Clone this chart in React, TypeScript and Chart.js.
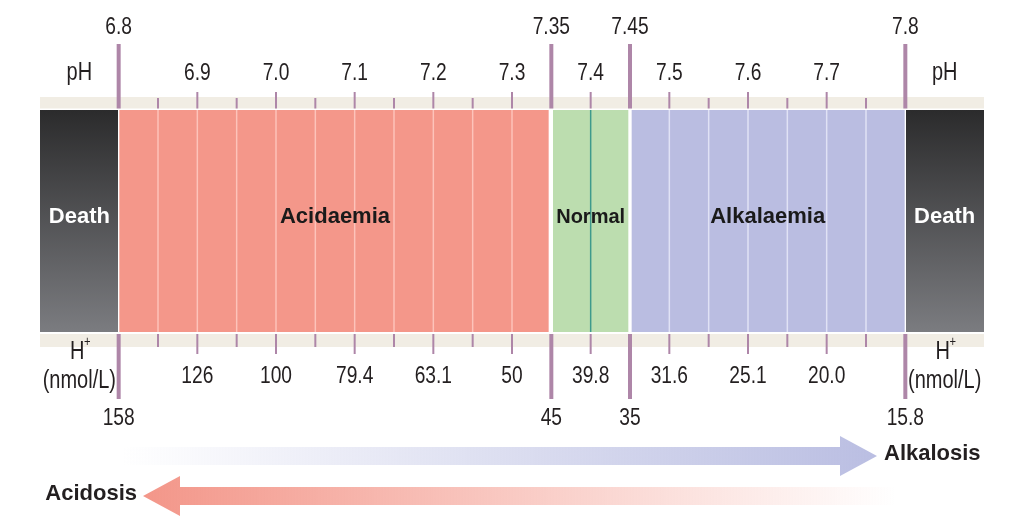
import React, { useEffect, useRef } from 'react';
import { Chart, registerables } from 'chart.js';

Chart.register(...registerables);

// ---- data ----
const zoneNames = ['Death', 'Acidaemia', 'Normal', 'Alkalaemia', 'Death'];
const zoneStart = [6.7, 6.8, 7.35, 7.45, 7.8];
const zoneEnd = [6.8, 7.35, 7.45, 7.8, 7.9];
const boundaryPH = [6.8, 7.35, 7.45, 7.8];
const boundaryPHLabels = ['6.8', '7.35', '7.45', '7.8'];
const boundaryHLabels = ['158', '45', '35', '15.8'];
const tenthPH = [6.9, 7.0, 7.1, 7.2, 7.3, 7.4, 7.5, 7.6, 7.7];
const tenthPHLabels = ['6.9', '7.0', '7.1', '7.2', '7.3', '7.4', '7.5', '7.6', '7.7'];
const tenthHLabels = ['126', '100', '79.4', '63.1', '50', '39.8', '31.6', '25.1', '20.0'];
const halfPH = [6.85, 6.95, 7.05, 7.15, 7.25, 7.55, 7.65, 7.75];
const normalPH = 7.4;

// ---- styles ----
const zoneColors = ['death', '#F4978A', '#BCDDAF', '#BABDE1', 'death'];
const zoneLineColors = ['', 'rgba(255,206,198,0.8)', '', 'rgba(228,230,247,0.9)', ''];
const zoneBorders = [
  { left: 0, right: 1, top: 0, bottom: 0 },
  { left: 1, right: 3, top: 0, bottom: 0 },
  { left: 2, right: 2, top: 0, bottom: 0 },
  { left: 2, right: 1, top: 0, bottom: 0 },
  { left: 1, right: 0, top: 0, bottom: 0 },
];
const TICK = '#AE86A8';
const BEIGE = '#F1EDE4';
const TEXT = '#231F20';
const REG = '"Liberation Sans", Arial, sans-serif';
const BOLD = '"Liberation Sans", Arial, sans-serif';
const NARROW = 0.8;

const decor = {
  id: 'decor',
  beforeDatasetsDraw(chart: any) {
    const { ctx, chartArea } = chart;
    const { left, right, top, bottom } = chartArea;
    ctx.save();
    ctx.fillStyle = BEIGE;
    ctx.fillRect(left, top - 13, right - left, 11.5);
    ctx.fillRect(left, bottom + 2, right - left, 13);
    ctx.restore();
  },
  afterDatasetsDraw(chart: any) {
    const { ctx, chartArea } = chart;
    const { left, right, top, bottom } = chartArea;
    const x = chart.scales.x;
    const px = (v: number) => x.getPixelForValue(v);
    ctx.save();

    // inner lines in bars
    const inner = [...tenthPH, ...halfPH];
    inner.forEach((v) => {
      const zi = zoneStart.findIndex((s, i) => v > s && v < zoneEnd[i]);
      if (zi < 0) return;
      let col = zoneLineColors[zi];
      if (Math.abs(v - normalPH) < 1e-6) col = '#3E9A8C';
      if (!col) return;
      ctx.strokeStyle = col;
      ctx.lineWidth = 1.5;
      ctx.beginPath();
      ctx.moveTo(px(v), top);
      ctx.lineTo(px(v), bottom);
      ctx.stroke();
    });

    // ticks
    ctx.strokeStyle = TICK;
    const vline = (xx: number, y1: number, y2: number, w: number) => {
      ctx.lineWidth = w;
      ctx.beginPath();
      ctx.moveTo(xx, y1);
      ctx.lineTo(xx, y2);
      ctx.stroke();
    };
    boundaryPH.forEach((v) => {
      vline(px(v), 44, top - 1.5, 4);
      vline(px(v), bottom + 2, 399, 4);
    });
    tenthPH.forEach((v) => {
      vline(px(v), 92, top - 1.5, 2);
      vline(px(v), bottom + 2, 354, 2);
    });
    halfPH.forEach((v) => {
      vline(px(v), 98, top - 1.5, 2);
      vline(px(v), bottom + 2, 347, 2);
    });

    // regular (condensed) text
    const nText = (s: string, cx: number, cy: number, size: number) => {
      ctx.save();
      ctx.translate(cx, cy);
      ctx.scale(NARROW, 1);
      ctx.font = `${size}px ${REG}`;
      ctx.fillText(s, 0, 0);
      ctx.restore();
    };
    ctx.fillStyle = TEXT;
    ctx.textAlign = 'center';
    ctx.textBaseline = 'middle';
    boundaryPH.forEach((v, i) => nText(boundaryPHLabels[i], px(v), 27, 24));
    tenthPH.forEach((v, i) => nText(tenthPHLabels[i], px(v), 73, 24));
    boundaryPH.forEach((v, i) => nText(boundaryHLabels[i], px(v), 418, 24));
    tenthPH.forEach((v, i) => nText(tenthHLabels[i], px(v), 376, 24));
    const lx = (left + px(zoneEnd[0])) / 2;
    const rx = (px(zoneStart[4]) + right) / 2;
    [lx, rx].forEach((cx) => {
      nText('pH', cx, 73, 25);
      nText('(nmol/L)', cx, 381, 25);
      nText('H', cx - 2, 352, 25);
      nText('+', cx + 8, 342, 14);
    });

    // zone labels
    zoneNames.forEach((name, i) => {
      const cx = (px(zoneStart[i]) + px(zoneEnd[i])) / 2;
      ctx.fillStyle = name === 'Death' ? '#FFFFFF' : '#1A1A1A';
      ctx.font = name === 'Normal' ? `bold 20px ${BOLD}` : `bold 22px ${BOLD}`;
      ctx.fillText(name, cx, 217);
    });

    // arrows
    const ay = 456;
    const g1 = ctx.createLinearGradient(123, 0, 877, 0);
    g1.addColorStop(0, 'rgba(186,190,226,0)');
    g1.addColorStop(1, 'rgba(186,190,226,1)');
    ctx.fillStyle = g1;
    ctx.beginPath();
    ctx.moveTo(123, ay - 9);
    ctx.lineTo(840, ay - 9);
    ctx.lineTo(840, ay - 20);
    ctx.lineTo(877, ay);
    ctx.lineTo(840, ay + 20);
    ctx.lineTo(840, ay + 9);
    ctx.lineTo(123, ay + 9);
    ctx.closePath();
    ctx.fill();

    const by = 496;
    const g2 = ctx.createLinearGradient(143, 0, 895, 0);
    g2.addColorStop(0, 'rgba(243,150,137,1)');
    g2.addColorStop(1, 'rgba(243,150,137,0)');
    ctx.fillStyle = g2;
    ctx.beginPath();
    ctx.moveTo(895, by - 9);
    ctx.lineTo(180, by - 9);
    ctx.lineTo(180, by - 20);
    ctx.lineTo(143, by);
    ctx.lineTo(180, by + 20);
    ctx.lineTo(180, by + 9);
    ctx.lineTo(895, by + 9);
    ctx.closePath();
    ctx.fill();

    ctx.fillStyle = TEXT;
    ctx.font = `bold 22px ${BOLD}`;
    ctx.textAlign = 'left';
    ctx.fillText('Alkalosis', 884, 454);
    ctx.textAlign = 'right';
    ctx.fillText('Acidosis', 137, 494);

    ctx.restore();
  },
};

export default function App() {
  const ref = useRef<HTMLCanvasElement>(null);
  useEffect(() => {
    const deathFill = (c: any) => {
      const chart = c.chart;
      const area = chart.chartArea;
      if (!area) return '#444';
      const g = chart.ctx.createLinearGradient(0, area.top, 0, area.bottom);
      g.addColorStop(0, '#2B2B2C');
      g.addColorStop(1, '#7B7C80');
      return g;
    };
    const chart = new Chart(ref.current as HTMLCanvasElement, {
      type: 'bar',
      data: {
        labels: ['pH'],
        datasets: zoneNames.map((name, i) => ({
          label: name,
          data: [[zoneStart[i], zoneEnd[i]]] as any,
          backgroundColor: zoneColors[i] === 'death' ? deathFill : zoneColors[i],
          borderColor: '#FFFFFF',
          borderWidth: zoneBorders[i],
          borderSkipped: false,
          barPercentage: 1,
          categoryPercentage: 1,
          grouped: false,
        })),
      },
      options: {
        indexAxis: 'y',
        animation: false,
        responsive: true,
        maintainAspectRatio: false,
        events: [],
        layout: { padding: { left: 40, right: 40, top: 110, bottom: 191 } },
        scales: {
          x: { type: 'linear', min: 6.7, max: 7.9, display: false },
          y: { display: false },
        },
        plugins: { legend: { display: false }, tooltip: { enabled: false } },
      },
      plugins: [decor],
    } as any);
    return () => chart.destroy();
  }, []);
  return (
    <div style={{ position: 'absolute', left: 0, top: 0, width: 1024, height: 523, background: '#FFFFFF' }}>
      <canvas ref={ref} />
    </div>
  );
}
